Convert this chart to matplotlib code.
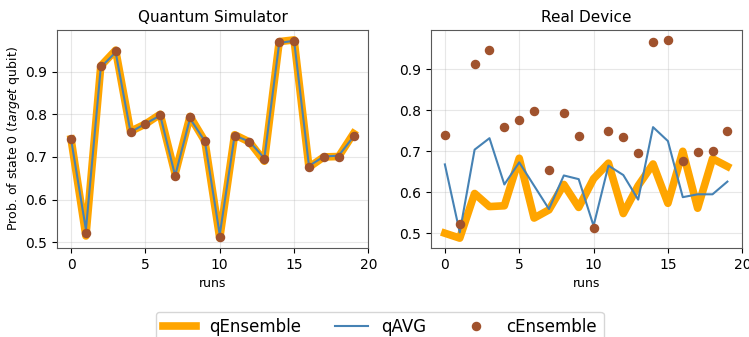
import numpy as np
import matplotlib.pyplot as plt

runs = np.arange(20)

# classical ensemble (same in both panels)
c_ens = [0.741, 0.522, 0.912, 0.948, 0.759, 0.776, 0.798, 0.655, 0.793, 0.737,
         0.513, 0.750, 0.736, 0.695, 0.968, 0.972, 0.676, 0.699, 0.701, 0.749]

# quantum simulator
sim_q_ens = [0.742, 0.515, 0.913, 0.950, 0.760, 0.777, 0.800, 0.660, 0.795, 0.737,
             0.510, 0.752, 0.735, 0.690, 0.970, 0.974, 0.676, 0.700, 0.701, 0.755]
sim_q_avg = [0.742, 0.530, 0.910, 0.945, 0.758, 0.778, 0.797, 0.656, 0.790, 0.737,
             0.518, 0.750, 0.736, 0.697, 0.967, 0.972, 0.679, 0.701, 0.703, 0.748]

# real device
dev_q_ens = [0.500, 0.488, 0.597, 0.565, 0.567, 0.683, 0.537, 0.557, 0.619, 0.563,
             0.633, 0.671, 0.548, 0.616, 0.669, 0.573, 0.700, 0.561, 0.682, 0.663]
dev_q_avg = [0.668, 0.502, 0.704, 0.732, 0.619, 0.673, 0.616, 0.559, 0.641, 0.632,
             0.518, 0.665, 0.642, 0.582, 0.759, 0.725, 0.588, 0.595, 0.595, 0.626]

fig, axes = plt.subplots(1, 2, figsize=(7.49, 3.37), dpi=100)
fig.subplots_adjust(left=0.076, right=0.991, top=0.911, bottom=0.264, wspace=0.2)

panels = [("Quantum Simulator", sim_q_ens, sim_q_avg),
          ("Real Device", dev_q_ens, dev_q_avg)]

for ax, (title, q_ens, q_avg) in zip(axes, panels):
    ax.plot(runs, q_ens, color='orange', linewidth=5.5, label='qEnsemble')
    ax.plot(runs, q_avg, color='steelblue', linewidth=1.5, label='qAVG')
    ax.scatter(runs, c_ens, color='sienna', s=34, zorder=3, label='cEnsemble')
    ax.set_title(title, fontsize=11)
    ax.set_xlabel('runs', fontsize=9)
    ax.set_xticks([0, 5, 10, 15, 20])
    ax.grid(alpha=0.3)
    for sp in ax.spines.values():
        sp.set_color('0.35')

axes[0].set_ylabel(r'Prob. of state 0 ($\it{target}$ qubit)', fontsize=9, labelpad=2)

handles, labels = axes[0].get_legend_handles_labels()
fig.legend(handles, labels, loc='upper center', ncol=3, fontsize=12,
           bbox_to_anchor=(0.507, 0.10), scatteryoffsets=[0.5])

plt.savefig('out.png')
